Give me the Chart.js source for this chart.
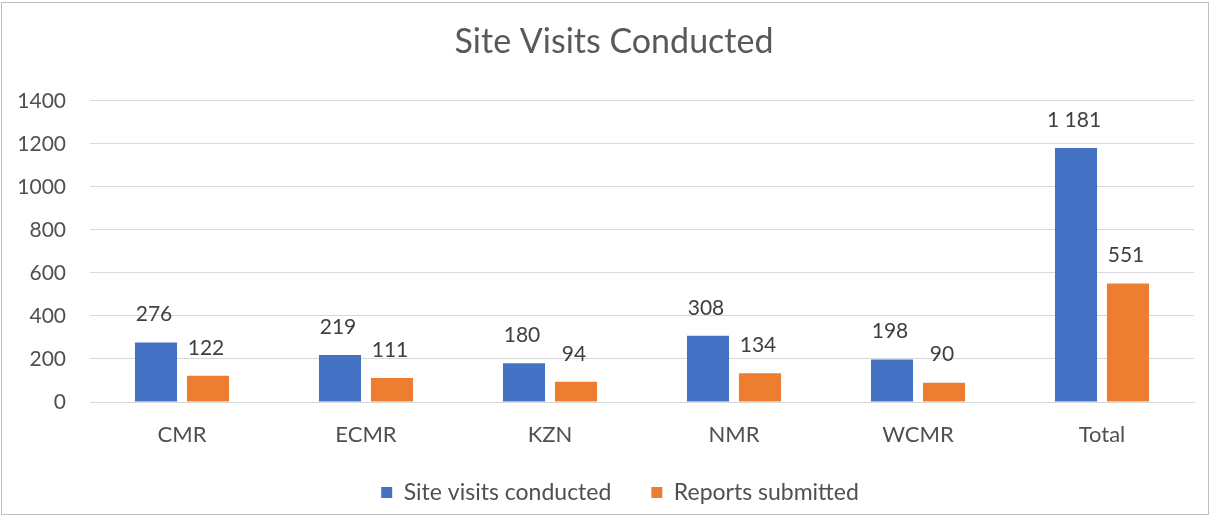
<!DOCTYPE html>
<html><head><meta charset="utf-8">
<script src="https://cdn.jsdelivr.net/npm/chart.js@4.4.1/dist/chart.umd.min.js"></script>
<style>
html,body{margin:0;padding:0;background:#fff;}
#wrap{position:absolute;left:1px;top:2px;width:1208px;height:513px;border:1px solid #bfbfbf;box-sizing:border-box;}
canvas{display:block;}
</style></head><body>
<div id="wrap"><canvas id="c"></canvas></div>
<script>
const categories = ["CMR","ECMR","KZN","NMR","WCMR","Total"];
const siteVisits = [276,219,180,308,198,1181];
const reportsSubmitted = [122,111,94,134,90,551];
const seriesNames = ["Site visits conducted","Reports submitted"];
const yTicks = [0,200,400,600,800,1000,1200,1400];

const FONT = "Lato, 'Open Sans', sans-serif";
const TXT = "#505050";

function fmt(v){ return String(v).replace(/\B(?=(\d{3})+(?!\d))/g, " "); }

const labelPlugin = {
  id:'valLabels',
  afterDatasetsDraw(chart){
    const ctx = chart.ctx;
    ctx.save();
    ctx.font = "21px " + FONT;
    ctx.fillStyle = "#404040";
    ctx.textAlign = "center";
    ctx.textBaseline = "middle";
    chart.data.datasets.forEach((ds,i)=>{
      const meta = chart.getDatasetMeta(i);
      meta.data.forEach((bar,j)=>{
        ctx.fillText(fmt(ds.data[j]), bar.x - 2, bar.y - 28);
      });
    });
    ctx.restore();
  }
};

const layoutTweak = {
  id:'layoutTweak',
  beforeInit(chart){
    const lg = chart.legend;
    if (lg) {
      const orig = lg.fit.bind(lg);
      lg.fit = function(){ orig(); this.height = 42; };
    }
  },
  afterLayout(chart){
    const t = chart.titleBlock;
    if (t) { t.left += 16; t.right += 16; }
    const lg = chart.legend;
    if (lg) {
      lg.top -= 30;
      lg.left += 22; lg.right += 22;
      lg.height = lg.bottom - lg.top;
      if (typeof lg.adjustHitBoxes === 'function') lg.adjustHitBoxes();
    }
  }
};

new Chart(document.getElementById('c'), {
  type:'bar',
  data:{
    labels: categories,
    datasets:[
      {label:seriesNames[0], data:siteVisits, backgroundColor:"#4472C4", barPercentage:0.81, categoryPercentage:0.565},
      {label:seriesNames[1], data:reportsSubmitted, backgroundColor:"#ED7D31", barPercentage:0.81, categoryPercentage:0.565}
    ]
  },
  options:{
    responsive:true, maintainAspectRatio:false, animation:false,
    layout:{padding:{left:0,right:14,top:10,bottom:1}},
    plugins:{
      title:{display:true, text:"Site Visits Conducted", color:"#595959", font:{family:FONT,size:34,weight:'normal'}, padding:{top:9,bottom:38}},
      legend:{position:'bottom', labels:{color:TXT, font:{family:FONT,size:23}, boxWidth:11, boxHeight:11, padding:40}},
      tooltip:{enabled:false}
    },
    scales:{
      x:{grid:{display:false, drawTicks:false}, border:{display:true,color:"#d9d9d9"},
         afterFit(s){ s.height = 69; },
         ticks:{color:TXT, font:{family:FONT,size:22}, padding:20}},
      y:{min:0,max:1400, afterBuildTicks(s){ s.ticks = yTicks.map(v=>({value:v})); },
         afterFit(s){ s.width = 88; },
         grid:{color:"#d9d9d9", drawTicks:false}, border:{display:false},
         ticks:{color:TXT, font:{family:FONT,size:21}, padding:24, callback:(v)=>String(v)}}
    }
  },
  plugins:[labelPlugin, layoutTweak]
});
</script>
</body></html>
